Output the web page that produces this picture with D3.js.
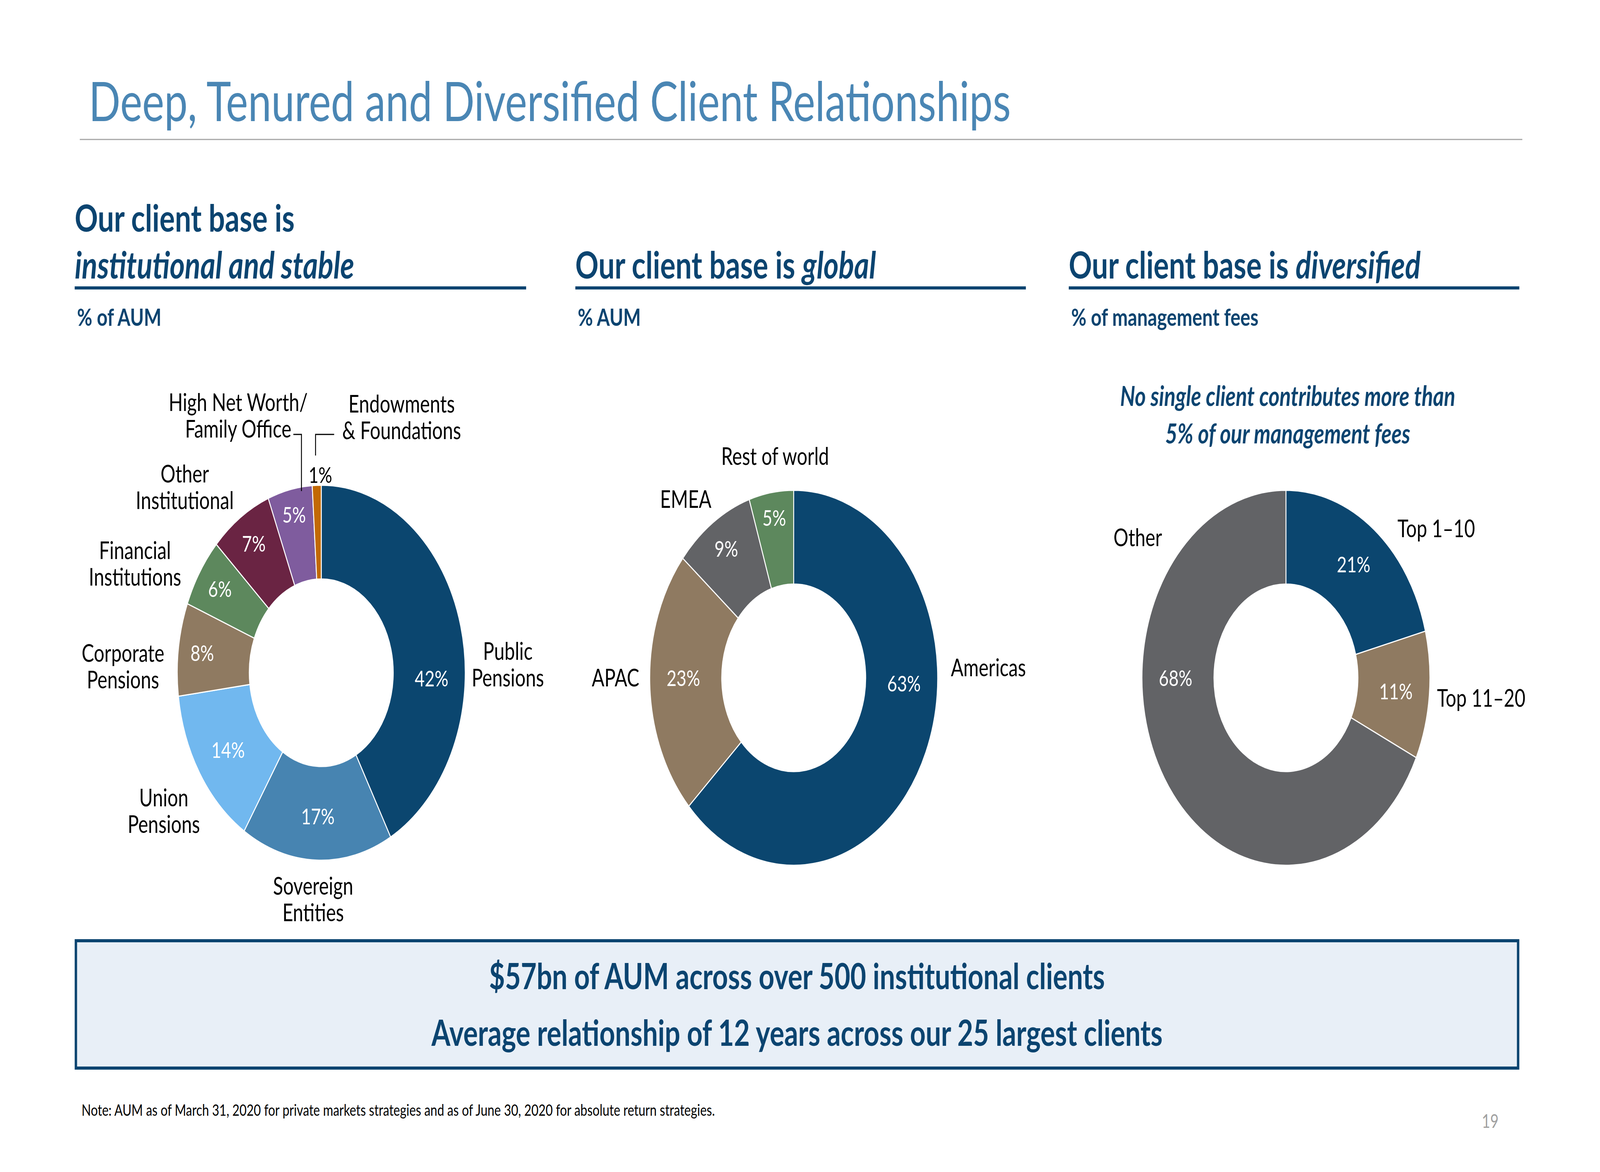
<!DOCTYPE html>
<html>
<head>
<meta charset="utf-8">
<script src="https://cdn.jsdelivr.net/npm/d3@7"></script>
<style>
  html, body { margin: 0; padding: 0; background: #fff; overflow: hidden; }
  svg { display: block; }
  text { font-family: Lato, "Open Sans", sans-serif; }
</style>
</head>
<body>
<div id="slide"></div>
<script>
// ---- data ----
const clientTypes = ["Public\nPensions", "Sovereign\nEntities", "Union\nPensions", "Corporate\nPensions",
  "Financial\nInstitutions", "Other\nInstitutional", "High Net Worth/\nFamily Office", "Endowments\n& Foundations"];
const clientTypeShares = [42, 17, 14, 8, 6, 7, 5, 1];

const regions = ["Americas", "APAC", "EMEA", "Rest of world"];
const regionShares = [63, 23, 9, 5];

const feeGroups = ["Top 1\u201310", "Top 11\u201320", "Other"];
const feeShares = [21, 11, 68];

// ---- styles ----
const NAVY = "#0B4470";
const col = {
  navy: "#0B466F", steel: "#4784B1", sky: "#71B8EF", brown: "#8F7A61",
  green: "#5D885D", maroon: "#6A2443", purple: "#7F5C9E", orange: "#C26904", grey: "#626366"
};

const W = 5334, H = 3000;
const R = 480, r = 240;

// the slide is drawn in 5334x3000 units and stretched over the window
const svg = d3.select("#slide").append("svg")
    .attr("viewBox", `0 0 ${W} ${H}`)
    .attr("preserveAspectRatio", "none")
    .attr("width", "100vw")
    .attr("height", "100vh");

/* title + rule */
svg.append("text")
    .attr("x", 296).attr("y", 310)
    .attr("font-size", 139)
    .attr("fill", "#4A86B4")
    .text("Deep, Tenured and Diversified Client Relationships");
svg.append("line")
    .attr("x1", 266).attr("x2", 5075)
    .attr("y1", 357).attr("y2", 357)
    .attr("stroke", "#A6A6A6").attr("stroke-width", 3);

/* column headings */
function heading(x, y, parts) {
  let t = svg.append("text")
      .attr("x", x).attr("y", y)
      .attr("font-size", 96)
      .attr("font-weight", 700)
      .attr("fill", NAVY);
  parts.forEach(p => {
    t.append("tspan").attr("font-style", p[1] ? "italic" : "normal").text(p[0]);
  });
}
const columns = [
  { x: 249, w: 1505, sub: "% of AUM" },
  { x: 1918, w: 1502, sub: "% AUM" },
  { x: 3563, w: 1502, sub: "% of management fees" },
];
heading(249, 593, [["Our client base is", false]]);
heading(249, 713, [["institutional and stable", true]]);
heading(1918, 713, [["Our client base is ", false], ["global", true]]);
heading(3563, 713, [["Our client base is ", false], ["diversified", true]]);

columns.forEach(c => {
  svg.append("rect")
      .attr("x", c.x).attr("y", 733)
      .attr("width", c.w).attr("height", 8)
      .attr("fill", NAVY);
  svg.append("text")
      .attr("x", c.x + 8).attr("y", 834)
      .attr("font-size", 62)
      .attr("font-weight", 700)
      .attr("fill", NAVY)
      .text(c.sub);
});

/* call-out above the fee donut */
["No single client contributes more than", "5% of our management fees"].forEach((s, i) => {
  svg.append("text")
      .attr("x", 4293).attr("y", 1039 + i * 96)
      .attr("text-anchor", "middle")
      .attr("font-size", 70)
      .attr("font-weight", 700)
      .attr("font-style", "italic")
      .attr("fill", NAVY)
      .text(s);
});

/* donuts */
const pie = d3.pie().sort(null).value(d => d.value);
const arc = d3.arc().innerRadius(r).outerRadius(R);

const charts = [
  {
    names: clientTypes, values: clientTypeShares, cx: 1071, cy: 1722,
    colors: [col.navy, col.steel, col.sky, col.brown, col.green, col.maroon, col.purple, col.orange],
    // category label anchor: [centre x offset, first baseline offset]
    labelPos: [[622, -33], [-27, 568], [-525, 342], [-661, -28], [-621, -291], [-455, -487], [-277, -670], [268, -666]],
    leaders: [
      [[-93, -610], [-66, -610], [-66, -465]],
      [[43, -610], [-19, -610], [-19, -556]],
    ],
  },
  {
    names: regions, values: regionShares, cx: 2646, cy: 1735,
    colors: [col.navy, col.brown, col.grey, col.green],
    labelPos: [[649, -4], [-594, 22], [-360, -435], [-62, -545]],
    leaders: [],
  },
  {
    names: feeGroups, values: feeShares, cx: 4287, cy: 1735,
    colors: [col.navy, col.brown, col.grey],
    labelPos: [[501, -360], [651, 74], [-494, -337]],
    leaders: [],
  },
];

// where the % label sits: big slices crossing 3 or 9 o'clock get it there
function labelAngle(d) {
  let mid = (d.startAngle + d.endAngle) / 2;
  if (d.value >= 20) {
    if (d.startAngle < Math.PI / 2 && d.endAngle > Math.PI / 2) return Math.PI / 2 + 0.04;
    if (d.startAngle < 3 * Math.PI / 2 && d.endAngle > 3 * Math.PI / 2) return 3 * Math.PI / 2;
  }
  return mid;
}
function labelRadius(v) {
  if (v >= 10) return 368;
  return 400 + Math.max(0, 6 - v) * 15;
}

charts.forEach(c => {
  let data = c.names.map((n, i) => ({ name: n, value: c.values[i], color: c.colors[i] }));
  let arcs = pie(data);
  let g = svg.append("g").attr("transform", `translate(${c.cx},${c.cy})`);

  g.selectAll(".slice")
      .data(arcs)
      .join("path")
      .attr("class", "slice")
      .attr("d", arc)
      .attr("fill", d => d.data.color)
      .attr("stroke", "#fff")
      .attr("stroke-width", 3);

  // tiny slices get their % above the ring, in black
  g.selectAll(".pct")
      .data(arcs)
      .join("text")
      .attr("class", "pct")
      .attr("text-anchor", "middle")
      .attr("font-size", 57)
      .attr("fill", d => d.value <= 2 ? "#000" : "#fff")
      .attr("x", d => {
        let a = labelAngle(d);
        if (d.value <= 2) return R * 0.2 * Math.sin(a);
        return labelRadius(d.value) * Math.sin(a);
      })
      .attr("y", d => {
        let a = labelAngle(d);
        if (d.value <= 2) return -R - 6;
        return -labelRadius(d.value) * Math.cos(a);
      })
      .attr("dy", d => d.value <= 2 ? 0 : "0.36em")
      .text(d => d.value + "%");

  arcs.forEach((d, i) => {
    let p = c.labelPos[i];
    let t = g.append("text")
        .attr("text-anchor", "middle")
        .attr("font-size", 62)
        .attr("fill", "#000");
    d.data.name.split("\n").forEach((line, k) => {
      t.append("tspan").attr("x", p[0]).attr("y", p[1] + k * 68).text(line);
    });
  });

  c.leaders.forEach(pts => {
    g.append("path")
        .attr("d", d3.line()(pts))
        .attr("fill", "none")
        .attr("stroke", "#000")
        .attr("stroke-width", 3);
  });
});

/* summary box */
svg.append("rect")
    .attr("x", 253).attr("y", 2408)
    .attr("width", 4808).attr("height", 326)
    .attr("fill", "#E8EFF7")
    .attr("stroke", NAVY)
    .attr("stroke-width", 8);
["$57bn of AUM across over 500 institutional clients",
 "Average relationship of 12 years across our 25 largest clients"].forEach((s, i) => {
  svg.append("text")
      .attr("x", 2657).attr("y", 2532 + i * 145)
      .attr("text-anchor", "middle")
      .attr("font-size", 91)
      .attr("font-weight", 700)
      .attr("fill", NAVY)
      .text(s);
});

/* footnote + page number */
svg.append("text")
    .attr("x", 272).attr("y", 2856)
    .attr("font-size", 41)
    .attr("fill", "#000")
    .text("Note: AUM as of March 31, 2020 for private markets strategies and as of June 30, 2020 for absolute return strategies.");
svg.append("text")
    .attr("x", 4968).attr("y", 2887)
    .attr("text-anchor", "middle")
    .attr("font-size", 48)
    .attr("fill", "#A0A0A0")
    .text("19");
</script>
</body>
</html>
